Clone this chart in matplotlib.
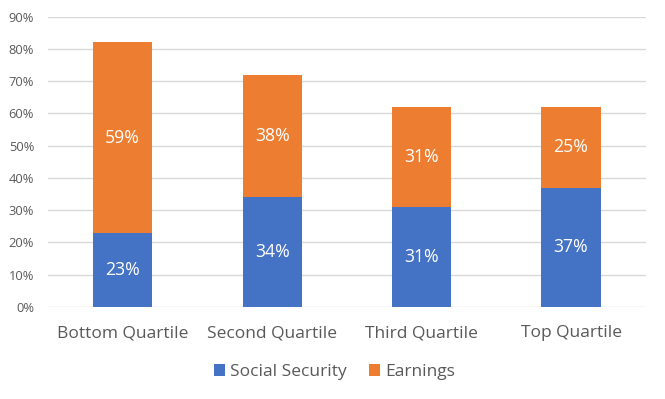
import numpy as np
import matplotlib.pyplot as plt
from matplotlib.ticker import PercentFormatter

categories = ["Bottom Quartile", "Second Quartile", "Third Quartile", "Top Quartile"]
social_security = [23, 34, 31, 37]
earnings = [59, 38, 31, 25]

BLUE, ORANGE, GRID, TXT = "#4472C4", "#ED7D31", "#D9D9D9", "#595959"
plt.rcParams["font.family"] = ["Open Sans", "DejaVu Sans"]

fig = plt.figure(figsize=(6.65, 3.99), dpi=100)
ax = fig.add_axes([0.0722, 0.2306, 0.8988, 0.728])

x = np.arange(len(categories))
w = 0.395
ax.bar(x, social_security, w, color=BLUE, label="Social Security", zorder=3)
ax.bar(x, earnings, w, bottom=social_security, color=ORANGE, label="Earnings", zorder=3)

for xi, s, e in zip(x, social_security, earnings):
    ax.text(xi, s / 2, f"{s}%", ha="center", va="center", color="white", fontsize=12.7, zorder=4)
    ax.text(xi, s + e / 2, f"{e}%", ha="center", va="center", color="white", fontsize=12.7, zorder=4)

ax.set_xlim(-0.5, 3.5)
ax.set_ylim(0, 90)
ax.set_yticks(np.arange(0, 91, 10))
ax.yaxis.set_major_formatter(PercentFormatter(decimals=0))
ax.grid(axis="y", color=GRID, lw=1, zorder=0)
for sp in ax.spines.values():
    sp.set_visible(False)
ax.tick_params(axis="both", length=0, colors=TXT)
ax.tick_params(axis="y", labelsize=9.3, pad=10)
ax.tick_params(axis="x", labelsize=12.5, pad=13)
ax.set_xticks(x)
ax.set_xticklabels(categories)

fig.legend(*ax.get_legend_handles_labels(), loc="center",
           bbox_to_anchor=(334.5 / 665, 1 - 372 / 399), ncol=2, frameon=False,
           fontsize=12.5, labelcolor=TXT, handlelength=0.63, handleheight=0.63,
           handletextpad=0.3, columnspacing=1.26)

fig.savefig("out.png", dpi=100)
